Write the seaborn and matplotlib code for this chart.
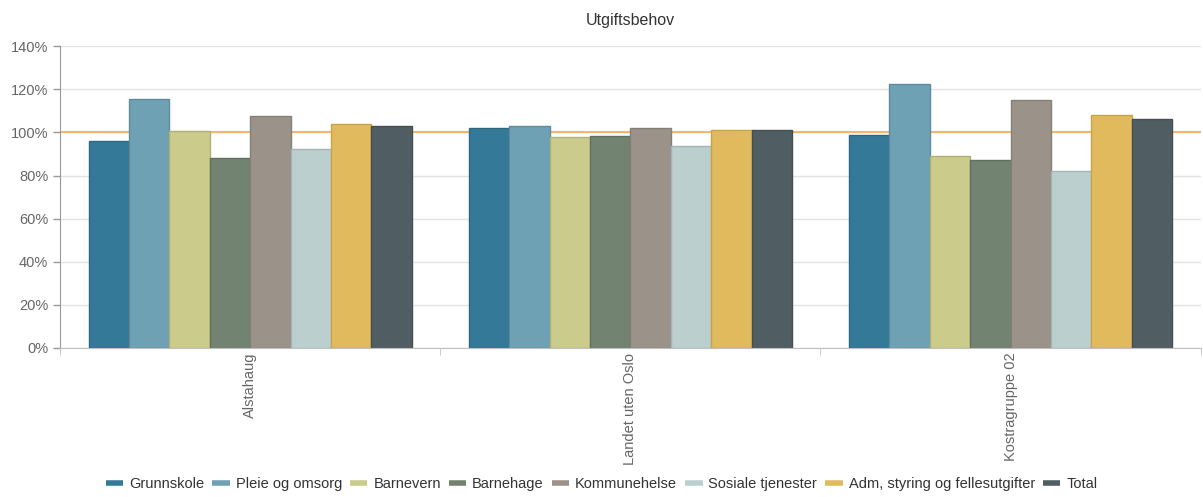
import pandas as pd
import numpy as np
import matplotlib.pyplot as plt
import seaborn as sns
from matplotlib.lines import Line2D
from matplotlib.ticker import FuncFormatter, FixedLocator

regions = ["Alstahaug", "Landet uten Oslo", "Kostragruppe 02"]
sectors = ["Grunnskole", "Pleie og omsorg", "Barnevern", "Barnehage", "Kommunehelse",
           "Sosiale tjenester", "Adm, styring og fellesutgifter", "Total"]
alstahaug = [96.1, 115.6, 100.5, 88.2, 107.8, 92.1, 103.8, 102.8]
landet = [102.1, 102.8, 97.7, 98.3, 102.2, 93.6, 101.1, 101.1]
kostra = [98.9, 122.5, 89.2, 87.0, 115.2, 81.9, 108.3, 106.2]
colors = ["#357998", "#6fa1b4", "#cbcb8c", "#728371", "#9b9389", "#bbcfcf", "#e2ba5e", "#505e63"]
edges = ["#2d6680", "#5f8b9c", "#b0b078", "#606f60", "#858076", "#a2b4b4", "#c9a24c", "#434f53"]

rows = []
for reg, vals in zip(regions, [alstahaug, landet, kostra]):
    for s, v in zip(sectors, vals):
        rows.append({"region": reg, "sektor": s, "verdi": v})
df = pd.DataFrame(rows)

sns.set_style("white")
plt.rcParams['font.family'] = ['Liberation Sans', 'DejaVu Sans']

fig, ax = plt.subplots(figsize=(12.03, 4.97), dpi=100)
fig.subplots_adjust(left=0.05, right=0.998, top=0.907, bottom=0.30)

ax.axhline(100, color="#f5b56e", lw=1.5, zorder=1)
sns.barplot(data=df, x="region", y="verdi", hue="sektor", palette=colors,
            width=0.85, gap=0, saturation=1, ax=ax, legend=False, zorder=2)
for i, cont in enumerate(ax.containers):
    for p in cont:
        p.set_edgecolor(edges[i])
        p.set_linewidth(1)

ax.set_ylim(0, 140)
ax.set_xlim(-0.5, 2.5)
ax.set_yticks(np.arange(0, 141, 20))
ax.yaxis.set_major_formatter(FuncFormatter(lambda v, p: f"{v:.0f}%"))
ax.grid(axis="y", color="#e3e3e3", lw=1, zorder=0)
ax.set_axisbelow(True)
ax.set_xlabel("")
ax.set_ylabel("")
ax.set_title("Utgiftsbehov", fontsize=11.5, color="#333333", pad=15)

for s in ["top", "right"]:
    ax.spines[s].set_visible(False)
ax.spines["left"].set_color("#999999")
ax.spines["bottom"].set_color("#c0c0c0")
ax.tick_params(axis="y", colors="#666666", labelsize=10.5, length=5, width=1, color="#999999", left=True)
ax.tick_params(axis="x", which="major", colors="#666666", labelsize=10.5, length=0, rotation=90)
ax.xaxis.set_minor_locator(FixedLocator([-0.5, 0.5, 1.5, 2.5]))
ax.tick_params(axis="x", which="minor", length=5, color="#c0c0c0", bottom=True)

handles = [Line2D([0], [0], color=c, lw=4, solid_capstyle="butt") for c in colors]
fig.legend(handles, sectors, loc="lower center", ncol=8, frameon=False,
           bbox_to_anchor=(0.5, -0.015), fontsize=10.5, handlelength=1.2,
           columnspacing=0.55, handletextpad=0.4, labelcolor="#333333")

fig.savefig("out.png", dpi=100)
